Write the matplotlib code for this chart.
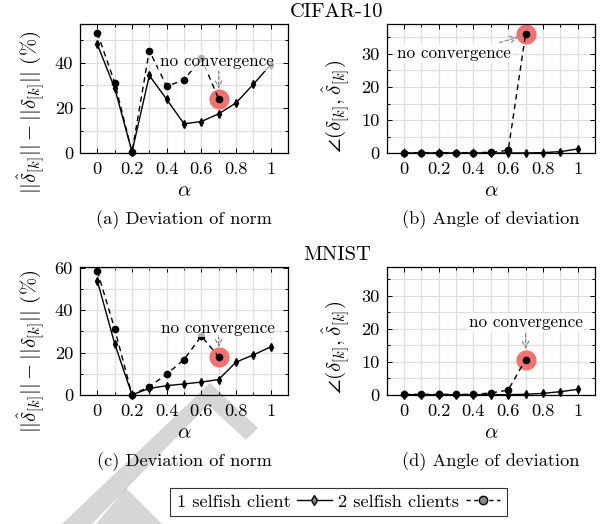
import matplotlib
matplotlib.use("Agg")
import matplotlib.pyplot as plt
from matplotlib.lines import Line2D
from matplotlib.patches import Polygon
from matplotlib.ticker import MultipleLocator, FuncFormatter

plt.rcParams['font.family'] = ['cmr10', 'DejaVu Serif']
plt.rcParams['mathtext.fontset'] = 'cm'
plt.rcParams['axes.unicode_minus'] = False
plt.rcParams['axes.formatter.use_mathtext'] = True
plt.rcParams['font.size'] = 12

# ---------------- data ----------------
alpha = [0.0, 0.1, 0.2, 0.3, 0.4, 0.5, 0.6, 0.7, 0.8, 0.9, 1.0]
alpha2 = [0.0, 0.1, 0.2, 0.3, 0.4, 0.5, 0.6, 0.7]

cifar_norm_1 = [48.0, 28.8, 0.6, 34.3, 23.8, 13.0, 14.0, 17.4, 22.2, 30.4, 39.1]
cifar_norm_2 = [53.1, 31.2, 0.6, 45.3, 29.6, 32.3, 41.9, 24.0]
cifar_angle_1 = [0.1, 0.1, 0.1, 0.1, 0.1, 0.1, 0.1, 0.1, 0.2, 0.5, 1.3]
cifar_angle_2 = [0.2, 0.2, 0.2, 0.2, 0.2, 0.3, 0.9, 35.9]

mnist_norm_1 = [53.9, 24.2, 0.1, 3.1, 4.4, 5.2, 6.1, 7.3, 15.5, 18.9, 22.7]
mnist_norm_2 = [58.4, 31.3, 0.1, 3.9, 9.8, 16.7, 27.8, 18.1]
mnist_angle_1 = [0.1, 0.1, 0.1, 0.1, 0.1, 0.1, 0.1, 0.2, 0.5, 1.0, 1.7]
mnist_angle_2 = [0.2, 0.2, 0.2, 0.2, 0.2, 0.6, 1.5, 10.7]

x_ticks = [0, 0.2, 0.4, 0.6, 0.8, 1.0]
labels_series = ['1 selfish client', '2 selfish clients']
captions = ['(a) Deviation of norm', '(b) Angle of deviation',
            '(c) Deviation of norm', '(d) Angle of deviation']
titles = ['CIFAR-10', 'MNIST']
annot_text = 'no convergence'

norm_label = r'$||\hat{\delta}_{[k]}|| - ||\delta_{[k]}||$ (%)'
angle_label = r'$\angle(\delta_{[k]},\hat{\delta}_{[k]})$'

# ---------------- figure ----------------
W, H = 609, 524
fig = plt.figure(figsize=(W / 100, H / 100), dpi=100)


def px_rect(l, t, r, b):
    return [l / W, 1 - b / H, (r - l) / W, (b - t) / H]


ax_a = fig.add_axes(px_rect(80, 24, 288, 153.3))
ax_b = fig.add_axes(px_rect(386.7, 24, 595, 153.3))
ax_c = fig.add_axes(px_rect(80, 266.7, 288, 395))
ax_d = fig.add_axes(px_rect(386.7, 266.7, 595, 395))

RED = '#f27272'
GRID = '#dedede'


def style(ax, ylim, ymaj, ymin):
    ax.set_xlim(-0.1, 1.1)
    ax.set_ylim(*ylim)
    ax.xaxis.set_major_locator(MultipleLocator(0.2))
    ax.xaxis.set_minor_locator(MultipleLocator(0.1))
    ax.yaxis.set_major_locator(MultipleLocator(ymaj))
    ax.yaxis.set_minor_locator(MultipleLocator(ymin))
    ax.set_xticks(x_ticks)
    ax.xaxis.set_major_formatter(FuncFormatter(lambda v, p: '%g' % round(v, 2)))
    ax.yaxis.set_major_formatter(FuncFormatter(lambda v, p: '%g' % v))
    ax.grid(True, which='both', color=GRID, lw=0.9, zorder=0)
    ax.set_axisbelow(True)
    ax.tick_params(which='both', direction='in', top=True, right=True,
                   width=0.7, labelsize=13.2)
    ax.tick_params(axis='x', pad=6)
    ax.tick_params(axis='y', pad=5)
    ax.tick_params(which='major', length=3.5)
    ax.tick_params(which='minor', length=2)
    for s in ax.spines.values():
        s.set_linewidth(0.9)
    ax.set_xlabel(r'$\alpha$', fontsize=15, labelpad=4)


def draw(ax, y1, y2):
    ax.plot(alpha, y1, color='k', lw=1.0, marker='d', ms=4, mfc='k', mec='k',
            zorder=3, clip_on=False)
    ax.plot(alpha2, y2, color='k', lw=1.0, ls=(0, (4, 3)), marker='o', ms=4.5,
            mfc='k', mec='k', zorder=3, clip_on=False)
    ax.plot([alpha2[-1]], [y2[-1]], marker='o', ms=14.5, color=RED, mec='none',
            zorder=2, clip_on=False)


def ylab(ax, text, x, y):
    ax.set_ylabel(text, fontsize=15)
    ax.yaxis.label.set_va('center')
    ax.yaxis.set_label_coords(x, y)


arrow_kw = dict(arrowstyle='->', color='#808080', lw=0.8, linestyle=(0, (3, 2)),
                shrinkA=0, shrinkB=0)
box_kw = dict(boxstyle='square,pad=0.1', fc='white', ec='none', alpha=0.7)
box_kw2 = dict(boxstyle='square,pad=0.1', fc='white', ec='none', alpha=0.9)

# (a)
style(ax_a, (0, 57), 20, 10)
draw(ax_a, cifar_norm_1, cifar_norm_2)
ax_a.annotate('', xy=(0.7, 28.5), xytext=(0.7, 36.5), arrowprops=arrow_kw, zorder=4)
ax_a.text(0.69, 40.4, annot_text, ha='center', va='center', fontsize=12.3,
          bbox=box_kw, zorder=5)
ylab(ax_a, norm_label, -0.232, 0.32)

# (b)
style(ax_b, (0, 39), 10, 5)
draw(ax_b, cifar_angle_1, cifar_angle_2)
ax_b.annotate('', xy=(0.655, 35.0), xytext=(0.55, 33.4), arrowprops=arrow_kw, zorder=4)
ax_b.text(0.29, 30, annot_text, ha='center', va='center', fontsize=12.3,
          bbox=box_kw2, zorder=5)
ylab(ax_b, angle_label, -0.24, 0.36)

# (c)
style(ax_c, (0, 60.5), 20, 10)
draw(ax_c, mnist_norm_1, mnist_norm_2)
ax_c.annotate('', xy=(0.7, 22.5), xytext=(0.7, 28.0), arrowprops=arrow_kw, zorder=4)
ax_c.text(0.695, 31.6, annot_text, ha='center', va='center', fontsize=12.3,
          bbox=box_kw, zorder=5)
ylab(ax_c, norm_label, -0.232, 0.34)

# (d)
style(ax_d, (0, 38.8), 10, 5)
draw(ax_d, mnist_angle_1, mnist_angle_2)
ax_d.annotate('', xy=(0.7, 13.9), xytext=(0.7, 18.5), arrowprops=arrow_kw, zorder=4)
ax_d.text(0.70, 22, annot_text, ha='center', va='center', fontsize=12.3,
          bbox=box_kw2, zorder=5)
ylab(ax_d, angle_label, -0.24, 0.37)

# captions and titles
for ax, cap in zip([ax_a, ax_b, ax_c, ax_d], captions):
    pos = ax.get_position()
    cy = 220 if ax in (ax_a, ax_b) else 461.7
    fig.text(pos.x0 + pos.width / 2, 1 - cy / H, cap, ha='center', va='center',
             fontsize=13.2)
fig.text(337 / W, 1 - 12 / H, titles[0], ha='center', va='center', fontsize=14.8)
fig.text(337 / W, 1 - 255 / H, titles[1], ha='center', va='center', fontsize=14.8)

# legend
handles = [Line2D([], [], color='k', lw=1.0, marker='d', ms=5, mfc='#888888', mec='k'),
           Line2D([], [], color='k', lw=1.0, ls=(0, (3, 2.5)), marker='o', ms=6,
                  mfc='#888888', mec='k')]
leg = fig.legend(handles, labels_series, loc='center',
                 bbox_to_anchor=(338.5 / W, 1 - 502 / H), ncol=2, markerfirst=False,
                 frameon=True, fancybox=False, edgecolor='k', fontsize=13.2,
                 handlelength=1.9, handletextpad=0.35, columnspacing=0.35,
                 borderpad=0.35, borderaxespad=0)
leg.get_frame().set_linewidth(0.8)


# faint watermark shape in the background of the page
def fpoly(pts):
    return Polygon([(x / W, 1 - y / H) for x, y in pts], closed=True,
                   transform=fig.transFigure, fc='k', ec='none', alpha=0.16,
                   zorder=10)


fig.patches.append(fpoly([(210, 383), (258, 428), (246, 440), (208, 405),
                          (92, 524), (62, 524)]))
fig.patches.append(fpoly([(126, 488), (162, 524), (96, 524)]))

fig.savefig('out.png', dpi=100)
